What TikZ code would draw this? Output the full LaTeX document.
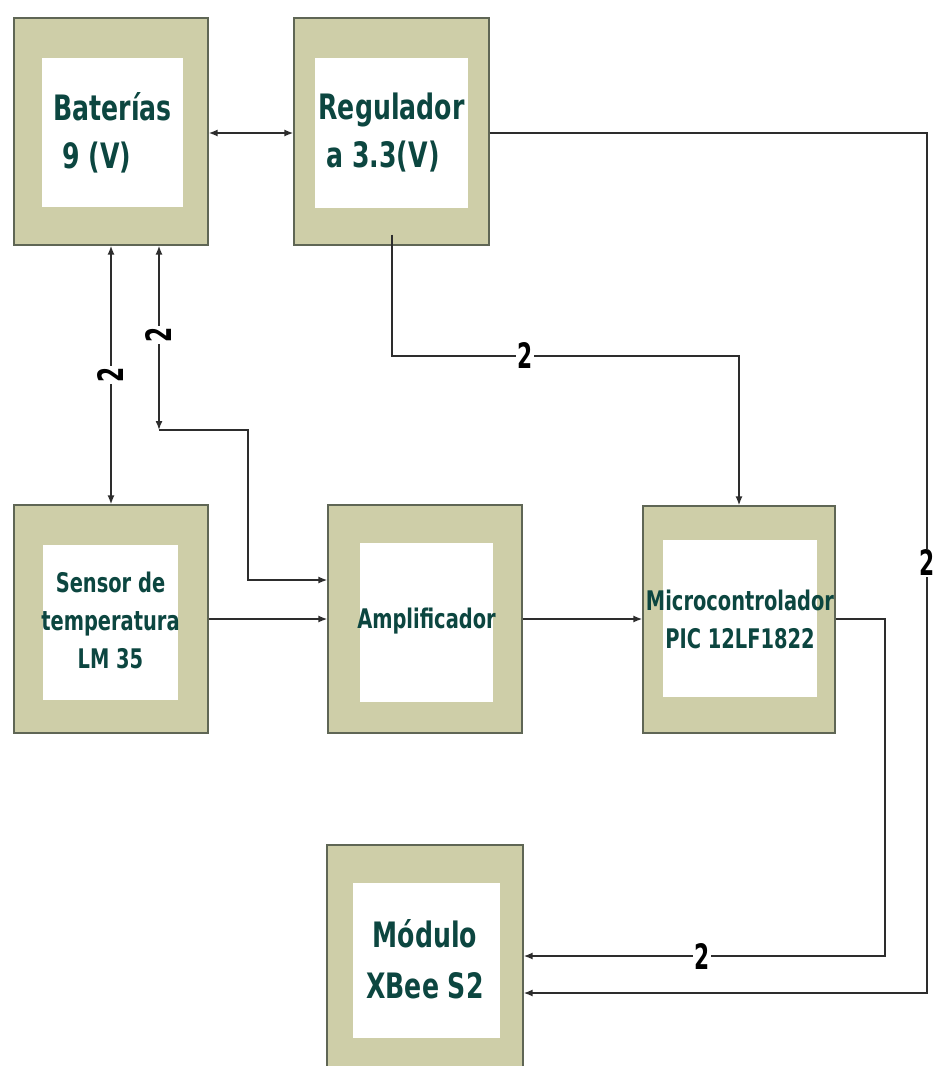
\documentclass[tikz,border=0pt]{standalone}
\usepackage{fontspec}
\usetikzlibrary{arrows.meta,calc}
\newfontfamily\blkfont{DejaVu Sans Bold}[FakeStretch=0.72]
\newfontfamily\labfont{DejaVu Sans Bold}[FakeStretch=0.62]
\definecolor{khaki}{RGB}{206,206,168}
\definecolor{boxedge}{RGB}{95,102,85}
\definecolor{txtgreen}{RGB}{12,70,64}
\definecolor{wire}{RGB}{45,45,45}
\tikzset{
  blockbox/.style={draw=boxedge, line width=1.3pt, fill=khaki, inner sep=0pt},
  innerbox/.style={fill=white, inner sep=0pt},
  bigtxt/.style={text=txtgreen, font=\blkfont\fontsize{35}{48}\selectfont, inner sep=0pt},
  midtxt/.style={text=txtgreen, font=\blkfont\fontsize{27}{38}\selectfont, inner sep=0pt, align=center},
  conn/.style={draw=wire, line width=1.5pt},
  arr/.style={-{Latex[length=9pt,width=7pt]}},
  darr/.style={{Latex[length=9pt,width=7pt]}-{Latex[length=9pt,width=7pt]}},
  numlab/.style={fill=white, text=black, font=\labfont\fontsize{35}{35}\selectfont, inner sep=1pt}
}
\begin{document}
\begin{tikzpicture}[x=1pt,y=-1pt]
\useasboundingbox (0,0) rectangle (937,1066);
\fill[white] (0,0) rectangle (937,1066);
\clip (0,0) rectangle (937,1066);

% outer blocks
\node[blockbox, minimum width=194pt, minimum height=227pt] (bat) at (111,131.5) {};
\node[blockbox, minimum width=195pt, minimum height=227pt] (reg) at (391.5,131.5) {};
\node[blockbox, minimum width=194pt, minimum height=228pt] (sen) at (111,619) {};
\node[blockbox, minimum width=194pt, minimum height=228pt] (amp) at (425,619) {};
\node[blockbox, minimum width=192pt, minimum height=227pt] (mic) at (739,619.5) {};
\node[blockbox, minimum width=196pt, minimum height=228pt] (xb) at (425,959) {};

% inner white panels
\node[innerbox, minimum width=141pt, minimum height=149pt] (batin) at (112.5,132.5) {};
\node[innerbox, minimum width=153pt, minimum height=150pt] (regin) at (391.5,133) {};
\node[innerbox, minimum width=135pt, minimum height=155pt] (senin) at (110.5,622.5) {};
\node[innerbox, minimum width=133pt, minimum height=159pt] (ampin) at (426.5,622.5) {};
\node[innerbox, minimum width=154pt, minimum height=157pt] (micin) at (740,618.5) {};
\node[innerbox, minimum width=147pt, minimum height=155pt] (xbin) at (426.5,960.5) {};

% texts
\node[bigtxt, align=left] (battxt) at (batin.center) {Baterías\\\hspace*{9pt}9 (V)};
\node[bigtxt, align=left] (regtxt) at (regin.center) {Regulador\\\hspace*{8pt}a 3.3(V)};
\node[midtxt] (sentxt) at (110.5,620) {Sensor de\\temperatura\\LM 35};
\node[midtxt] (amptxt) at (426.5,621) {Amplificador};
\node[midtxt] (mictxt) at (740,619) {Microcontrolador\\PIC 12LF1822};
\node[bigtxt, align=center, font=\blkfont\fontsize{35}{51}\selectfont] (xbtxt) at (425,959) {Módulo\\XBee S2};

% helper coordinates
\coordinate (ya) at (0,133);
\coordinate (rr) at (927,133);
\coordinate (yb1) at (0,956);
\coordinate (yb2) at (0,993);
\coordinate (c392) at (392,0);
\coordinate (y356) at (0,356);
\coordinate (x159) at (159,0);
\coordinate (k1) at (159,430);
\coordinate (k2) at (248,430);
\coordinate (y580) at (0,580);
\coordinate (mk) at (885,619);
\coordinate (rs) at ($(reg.south)+(0,-11)$);

% connectors
\draw[conn,darr] (bat.east |- ya) -- (reg.west |- ya);
\draw[conn,arr] (reg.east |- ya) -- (rr) -- (rr |- yb2) -- (xb.east |- yb2);
\draw[conn,arr] (rs -| c392) -- (c392 |- y356) -- (mic.north |- y356) -- (mic.north);
\draw[conn,darr] (bat.south) -- (sen.north);
\draw[conn,darr] (bat.south -| x159) -- (k1);
\draw[conn,arr] (k1) -- (k2) -- (k2 |- y580) -- (amp.west |- y580);
\draw[conn,arr] (sen.east) -- (amp.west);
\draw[conn,arr] (amp.east) -- (mic.west |- amp.east);
\draw[conn,arr] (mic.east |- mk) -- (mk) -- (mk |- yb1) -- (xb.east |- yb1);

% wire labels
\node[numlab] (l1) at (927,563) {2};
\node[numlab] (l2) at (525,356) {2};
\node[numlab, rotate=90] (l3) at (111,375) {2};
\node[numlab, rotate=90] (l4) at (159,335) {2};
\node[numlab] (l5) at (702,956) {2};
\end{tikzpicture}
\end{document}
